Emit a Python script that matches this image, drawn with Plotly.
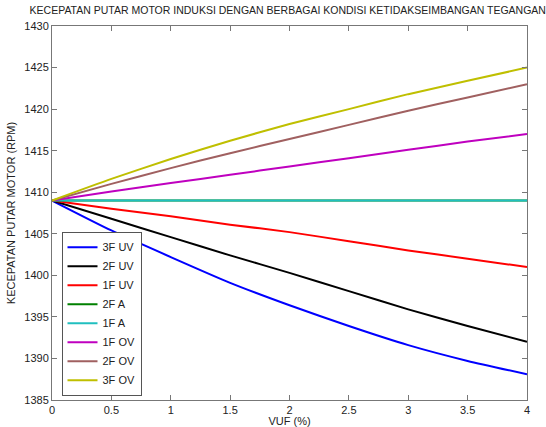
import plotly.graph_objects as go

vuf = [0, 0.5, 1, 1.5, 2, 2.5, 3, 3.5, 4]
uv3 = [1409, 1405.4, 1402.2, 1399.1, 1396.4, 1393.9, 1391.6, 1389.7, 1388.1]
uv2 = [1409, 1406.8, 1404.6, 1402.4, 1400.3, 1398.1, 1395.9, 1393.9, 1392.0]
uv1 = [1409, 1408.0, 1407.1, 1406.1, 1405.2, 1404.1, 1403.0, 1402.0, 1401.0]
a2 = [1409, 1409, 1409, 1409, 1409, 1409, 1409, 1409, 1409]
a1 = [1409, 1409, 1409, 1409, 1409, 1409, 1409, 1409, 1409]
ov1 = [1409, 1410.1, 1411.1, 1412.1, 1413.1, 1414.1, 1415.1, 1416.1, 1417.0]
ov2 = [1409, 1411.0, 1412.9, 1414.7, 1416.4, 1418.1, 1419.8, 1421.4, 1423.0]
ov3 = [1409, 1411.6, 1414.0, 1416.2, 1418.2, 1420.0, 1421.8, 1423.4, 1425.0]

names = ["3F UV", "2F UV", "1F UV", "2F A", "1F A", "1F OV", "2F OV", "3F OV"]
series = [uv3, uv2, uv1, a2, a1, ov1, ov2, ov3]
colors = ["#0000FF", "#000000", "#FF0000", "#008000", "#20BFBF", "#BF00BF", "#A06060", "#BFBF00"]

fig = go.Figure()
for n, s, c in zip(names, series, colors):
    fig.add_trace(go.Scatter(x=vuf, y=s, name=n, mode="lines",
                             line=dict(color=c, width=2, shape="spline", smoothing=0.6)))

FONT = "Liberation Sans, Arial"
axis_common = dict(showline=True, linecolor="#777777", linewidth=1, mirror="ticks",
                   ticks="inside", ticklen=5, tickcolor="#777777", showgrid=False,
                   zeroline=False, automargin=False,
                   tickfont=dict(family=FONT, size=11, color="#222222"))

fig.update_layout(
    width=546, height=427,
    margin=dict(l=52, r=19, t=26, b=27),
    paper_bgcolor="white", plot_bgcolor="white",
    title=dict(text="KECEPATAN PUTAR MOTOR INDUKSI DENGAN BERBAGAI KONDISI KETIDAKSEIMBANGAN TEGANGAN",
               x=0.527, xanchor="center", y=0.985, yanchor="top",
               font=dict(family=FONT, size=10.5, color="#222222")),
    xaxis=dict(range=[0, 4], tickvals=[0, 0.5, 1, 1.5, 2, 2.5, 3, 3.5, 4],
               ticktext=["0", "0.5", "1", "1.5", "2", "2.5", "3", "3.5", "4"],
               title=dict(text="VUF (%)", standoff=0,
                          font=dict(family=FONT, size=11, color="#222222")),
               **axis_common),
    yaxis=dict(range=[1385, 1430], tickvals=list(range(1385, 1431, 5)),
               title=dict(text="KECEPATAN PUTAR MOTOR (RPM)", standoff=6,
                          font=dict(family=FONT, size=11, color="#222222")),
               **axis_common),
    legend=dict(x=0.02, y=0.45, xanchor="left", yanchor="top",
                bgcolor="white", bordercolor="#555555", borderwidth=1,
                font=dict(family=FONT, size=11, color="#222222"),
                tracegroupgap=0, itemwidth=30),
)

fig.write_html("out.html")
